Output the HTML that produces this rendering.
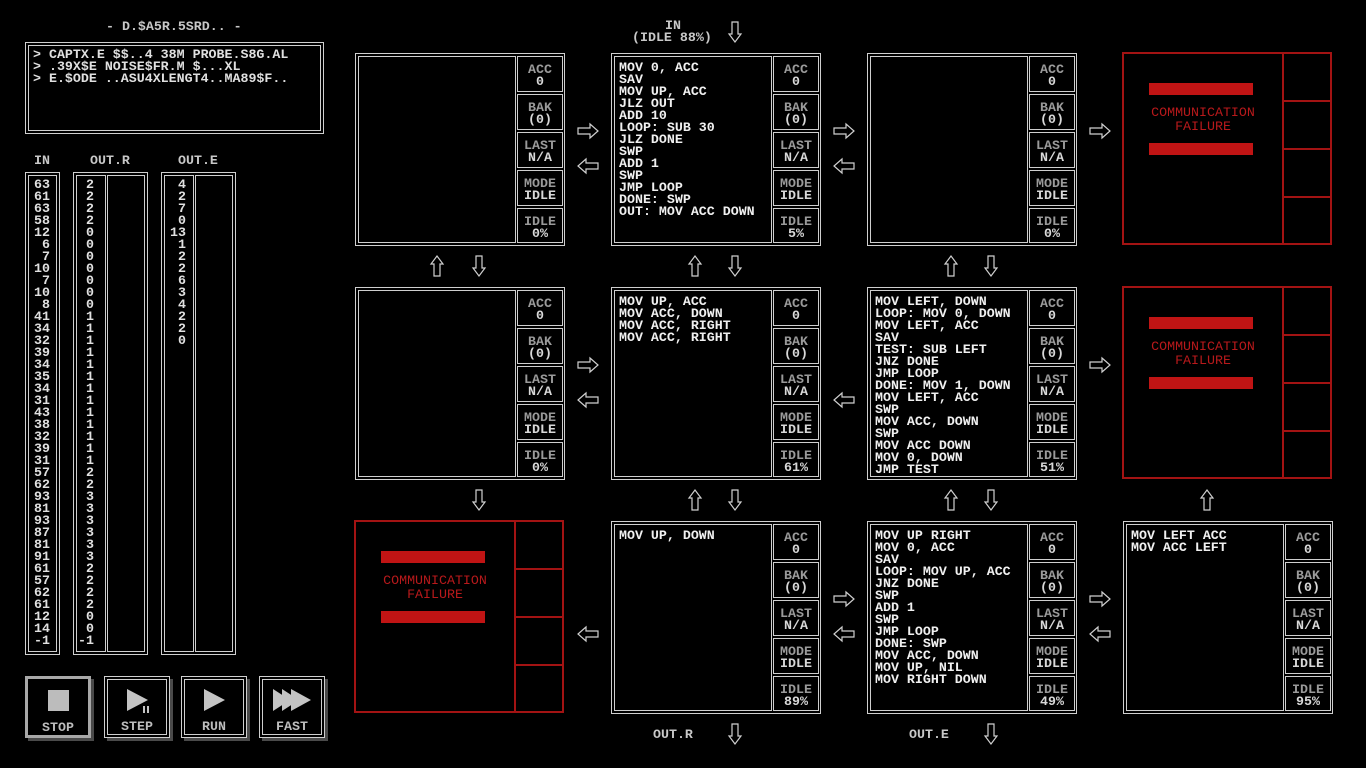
<!DOCTYPE html>
<html><head><meta charset="utf-8"><style>
*{margin:0;padding:0;box-sizing:border-box}
body{width:1366px;height:768px;background:#000;position:relative;overflow:hidden;font-family:"Liberation Mono","DejaVu Sans Mono",monospace;font-size:13.3px;font-weight:bold;line-height:12px;color:#e6e6e6}
.a{position:absolute}
.dbl{position:absolute;border:1px solid #cfcfcf}
.dbl>.in{position:absolute;left:2px;top:2px;right:2px;bottom:2px;border:1px solid #cfcfcf}
.code{position:absolute;left:2px;top:2px;width:158px;height:187px;border:1px solid #cfcfcf;padding:5px 0 0 4px;white-space:pre;color:#f0f0f0}
.cell{position:absolute;left:161px;width:46px;height:36px;border:1px solid #cfcfcf;text-align:center;padding-top:7px;color:#d8d8d8;white-space:pre}
.cell b{color:#9a9a9a;font-weight:bold}
.node{position:absolute;width:210px;height:193px;border:1px solid #cfcfcf}
.red{position:absolute;width:210px;height:193px;border:2px solid #a31313}
.red .sep{position:absolute;left:158px;top:0;width:2px;height:189px;background:#a31313}
.red .h{position:absolute;left:160px;width:46px;height:2px;background:#a31313}
.red .bar{position:absolute;left:25px;width:104px;height:12px;background:#c01414}
.red .t{position:absolute;left:0;width:158px;text-align:center;color:#b8191b;font-weight:normal;top:52px;line-height:14px}
.lab{position:absolute;color:#c8c8c8;white-space:pre}
.col{position:absolute;white-space:pre;text-align:right;color:#e0e0e0}
.btn{position:absolute;width:66px;height:62px;color:#bdbdbd;text-align:center}
</style></head><body>

<div class="lab" style="left:106px;top:21px">- D.$A5R.5SRD.. -</div>
<div class="dbl" style="left:25px;top:42px;width:299px;height:92px"><div class="in"></div></div>
<div class="lab" style="left:33px;top:49px;color:#e0e0e0">&gt; CAPTX.E $$..4 38M PROBE.S8G.AL
&gt; .39X$E NOISE$FR.M $...XL
&gt; E.$ODE ..ASU4XLENGT4..MA89$F..</div>

<div class="lab" style="left:34px;top:155px">IN</div>
<div class="lab" style="left:90px;top:155px">OUT.R</div>
<div class="lab" style="left:178px;top:155px">OUT.E</div>
<div class="dbl" style="left:25px;top:172px;width:35px;height:483px"><div class="in"></div></div>
<div class="dbl" style="left:73px;top:172px;width:75px;height:483px"><div class="in" style="right:41px"></div><div class="in" style="left:33px"></div></div>
<div class="dbl" style="left:161px;top:172px;width:75px;height:483px"><div class="in" style="right:41px"></div><div class="in" style="left:33px"></div></div>
<div class="col" style="left:26px;top:179px;width:24px">63
61
63
58
12
6
7
10
7
10
8
41
34
32
39
34
35
34
31
43
38
32
39
31
57
62
93
81
93
87
81
91
61
57
62
61
12
14
-1</div>
<div class="col" style="left:70px;top:179px;width:24px">2
2
2
2
0
0
0
0
0
0
0
1
1
1
1
1
1
1
1
1
1
1
1
1
2
2
3
3
3
3
3
3
2
2
2
2
0
0
-1</div>
<div class="col" style="left:162px;top:179px;width:24px">4
2
7
0
13
1
2
2
6
3
4
2
2
0</div>

<!-- buttons -->
<div class="a" style="left:28px;top:679px;width:66px;height:62px;background:#4a4a4a"></div>
<div class="btn" style="left:25px;top:676px;border:3px solid #a8a8a8;background:#000"><div class="a" style="left:20px;top:11px;width:21px;height:21px;background:#bcbcbc"></div><div class="a" style="left:0;width:60px;top:43px">STOP</div></div>
<div class="a" style="left:107px;top:679px;width:66px;height:62px;background:#4a4a4a"></div>
<div class="btn dbl" style="left:104px;top:676px;background:#000"><div class="in"></div><div class="a" style="left:0;width:64px;top:44px">STEP</div></div>
<div class="a" style="left:184px;top:679px;width:66px;height:62px;background:#4a4a4a"></div>
<div class="btn dbl" style="left:181px;top:676px;background:#000"><div class="in"></div><div class="a" style="left:0;width:64px;top:44px">RUN</div></div>
<div class="a" style="left:262px;top:679px;width:66px;height:62px;background:#4a4a4a"></div>
<div class="btn dbl" style="left:259px;top:676px;background:#000"><div class="in"></div><div class="a" style="left:0;width:64px;top:44px">FAST</div></div>

<!-- top labels -->
<div class="lab" style="left:665px;top:20px">IN</div>
<div class="lab" style="left:632px;top:32px">(IDLE 88%)</div>
<div class="lab" style="left:653px;top:729px">OUT.R</div>
<div class="lab" style="left:909px;top:729px">OUT.E</div>

<!-- row1 -->
<div class="node" style="left:355px;top:53px"><div class="code"></div>
<div class="cell" style="top:2px"><b>ACC</b>
0</div><div class="cell" style="top:40px"><b>BAK</b>
(0)</div><div class="cell" style="top:78px"><b>LAST</b>
N/A</div><div class="cell" style="top:116px"><b>MODE</b>
IDLE</div><div class="cell" style="top:154px;height:35px"><b>IDLE</b>
0%</div></div>

<div class="node" style="left:611px;top:53px"><div class="code">MOV 0, ACC
SAV
MOV UP, ACC
JLZ OUT
ADD 10
LOOP: SUB 30
JLZ DONE
SWP
ADD 1
SWP
JMP LOOP
DONE: SWP
OUT: MOV ACC DOWN</div>
<div class="cell" style="top:2px"><b>ACC</b>
0</div><div class="cell" style="top:40px"><b>BAK</b>
(0)</div><div class="cell" style="top:78px"><b>LAST</b>
N/A</div><div class="cell" style="top:116px"><b>MODE</b>
IDLE</div><div class="cell" style="top:154px;height:35px"><b>IDLE</b>
5%</div></div>

<div class="node" style="left:867px;top:53px"><div class="code"></div>
<div class="cell" style="top:2px"><b>ACC</b>
0</div><div class="cell" style="top:40px"><b>BAK</b>
(0)</div><div class="cell" style="top:78px"><b>LAST</b>
N/A</div><div class="cell" style="top:116px"><b>MODE</b>
IDLE</div><div class="cell" style="top:154px;height:35px"><b>IDLE</b>
0%</div></div>

<div class="red" style="left:1122px;top:52px"><div class="sep"></div><div class="h" style="top:46px"></div><div class="h" style="top:94px"></div><div class="h" style="top:142px"></div><div class="bar" style="top:29px"></div><div class="t">COMMUNICATION
FAILURE</div><div class="bar" style="top:89px"></div></div>

<!-- row2 -->
<div class="node" style="left:355px;top:287px"><div class="code"></div>
<div class="cell" style="top:2px"><b>ACC</b>
0</div><div class="cell" style="top:40px"><b>BAK</b>
(0)</div><div class="cell" style="top:78px"><b>LAST</b>
N/A</div><div class="cell" style="top:116px"><b>MODE</b>
IDLE</div><div class="cell" style="top:154px;height:35px"><b>IDLE</b>
0%</div></div>

<div class="node" style="left:611px;top:287px"><div class="code">MOV UP, ACC
MOV ACC, DOWN
MOV ACC, RIGHT
MOV ACC, RIGHT</div>
<div class="cell" style="top:2px"><b>ACC</b>
0</div><div class="cell" style="top:40px"><b>BAK</b>
(0)</div><div class="cell" style="top:78px"><b>LAST</b>
N/A</div><div class="cell" style="top:116px"><b>MODE</b>
IDLE</div><div class="cell" style="top:154px;height:35px"><b>IDLE</b>
61%</div></div>

<div class="node" style="left:867px;top:287px"><div class="code">MOV LEFT, DOWN
LOOP: MOV 0, DOWN
MOV LEFT, ACC
SAV
TEST: SUB LEFT
JNZ DONE
JMP LOOP
DONE: MOV 1, DOWN
MOV LEFT, ACC
SWP
MOV ACC, DOWN
SWP
MOV ACC DOWN
MOV 0, DOWN
JMP TEST</div>
<div class="cell" style="top:2px"><b>ACC</b>
0</div><div class="cell" style="top:40px"><b>BAK</b>
(0)</div><div class="cell" style="top:78px"><b>LAST</b>
N/A</div><div class="cell" style="top:116px"><b>MODE</b>
IDLE</div><div class="cell" style="top:154px;height:35px"><b>IDLE</b>
51%</div></div>

<div class="red" style="left:1122px;top:286px"><div class="sep"></div><div class="h" style="top:46px"></div><div class="h" style="top:94px"></div><div class="h" style="top:142px"></div><div class="bar" style="top:29px"></div><div class="t">COMMUNICATION
FAILURE</div><div class="bar" style="top:89px"></div></div>

<!-- row3 -->
<div class="red" style="left:354px;top:520px"><div class="sep"></div><div class="h" style="top:46px"></div><div class="h" style="top:94px"></div><div class="h" style="top:142px"></div><div class="bar" style="top:29px"></div><div class="t">COMMUNICATION
FAILURE</div><div class="bar" style="top:89px"></div></div>

<div class="node" style="left:611px;top:521px"><div class="code">MOV UP, DOWN</div>
<div class="cell" style="top:2px"><b>ACC</b>
0</div><div class="cell" style="top:40px"><b>BAK</b>
(0)</div><div class="cell" style="top:78px"><b>LAST</b>
N/A</div><div class="cell" style="top:116px"><b>MODE</b>
IDLE</div><div class="cell" style="top:154px;height:35px"><b>IDLE</b>
89%</div></div>

<div class="node" style="left:867px;top:521px"><div class="code">MOV UP RIGHT
MOV 0, ACC
SAV
LOOP: MOV UP, ACC
JNZ DONE
SWP
ADD 1
SWP
JMP LOOP
DONE: SWP
MOV ACC, DOWN
MOV UP, NIL
MOV RIGHT DOWN</div>
<div class="cell" style="top:2px"><b>ACC</b>
0</div><div class="cell" style="top:40px"><b>BAK</b>
(0)</div><div class="cell" style="top:78px"><b>LAST</b>
N/A</div><div class="cell" style="top:116px"><b>MODE</b>
IDLE</div><div class="cell" style="top:154px;height:35px"><b>IDLE</b>
49%</div></div>

<div class="node" style="left:1123px;top:521px"><div class="code">MOV LEFT ACC
MOV ACC LEFT</div>
<div class="cell" style="top:2px"><b>ACC</b>
0</div><div class="cell" style="top:40px"><b>BAK</b>
(0)</div><div class="cell" style="top:78px"><b>LAST</b>
N/A</div><div class="cell" style="top:116px"><b>MODE</b>
IDLE</div><div class="cell" style="top:154px;height:35px"><b>IDLE</b>
95%</div></div>

<svg class="a" style="left:0;top:0" width="1366" height="768">
<defs>
<path id="R" d="M-10,-3 H2 V-7 L10,0 L2,7 V3 H-10 Z" fill="none" stroke="#d0d0d0" stroke-width="1.2"/>
<path id="L" d="M10,-3 H-2 V-7 L-10,0 L-2,7 V3 H10 Z" fill="none" stroke="#d0d0d0" stroke-width="1.2"/>
<path id="U" d="M-3,10 V-2 H-6 L0,-10 L6,-2 H3 V10 Z" fill="none" stroke="#d0d0d0" stroke-width="1.2"/>
<path id="D" d="M-3,-10 V2 H-6 L0,10 L6,2 H3 V-10 Z" fill="none" stroke="#d0d0d0" stroke-width="1.2"/>
</defs>
<use href="#R" x="588" y="131"/><use href="#L" x="588" y="166"/>
<use href="#R" x="844" y="131"/><use href="#L" x="844" y="166"/>
<use href="#R" x="1100" y="131"/>
<use href="#R" x="588" y="365"/><use href="#L" x="588" y="400"/>
<use href="#L" x="844" y="400"/>
<use href="#R" x="1100" y="365"/>
<use href="#L" x="588" y="634"/>
<use href="#R" x="844" y="599"/><use href="#L" x="844" y="634"/>
<use href="#R" x="1100" y="599"/><use href="#L" x="1100" y="634"/>
<use href="#U" x="437" y="266"/><use href="#D" x="479" y="266"/>
<use href="#U" x="695" y="266"/><use href="#D" x="735" y="266"/>
<use href="#U" x="951" y="266"/><use href="#D" x="991" y="266"/>
<use href="#D" x="479" y="500"/>
<use href="#U" x="695" y="500"/><use href="#D" x="735" y="500"/>
<use href="#U" x="951" y="500"/><use href="#D" x="991" y="500"/>
<use href="#U" x="1207" y="500"/>
<use href="#D" x="735" y="32"/>
<use href="#D" x="735" y="734"/><use href="#D" x="991" y="734"/>
<!-- button icons -->
<polygon points="127,689 148,700 127,711" fill="#c4c4c4"/>
<rect x="143" y="706" width="2" height="7" fill="#c4c4c4"/><rect x="147" y="706" width="2" height="7" fill="#c4c4c4"/>
<polygon points="204,689 225,700 204,711" fill="#c4c4c4"/>
<polygon points="273,689 290,700 273,711" fill="#c4c4c4"/>
<polygon points="282,689 299,700 282,711" fill="#c4c4c4"/>
<polygon points="291,689 311,700 291,711" fill="#c4c4c4"/>
</svg>
</body></html>
